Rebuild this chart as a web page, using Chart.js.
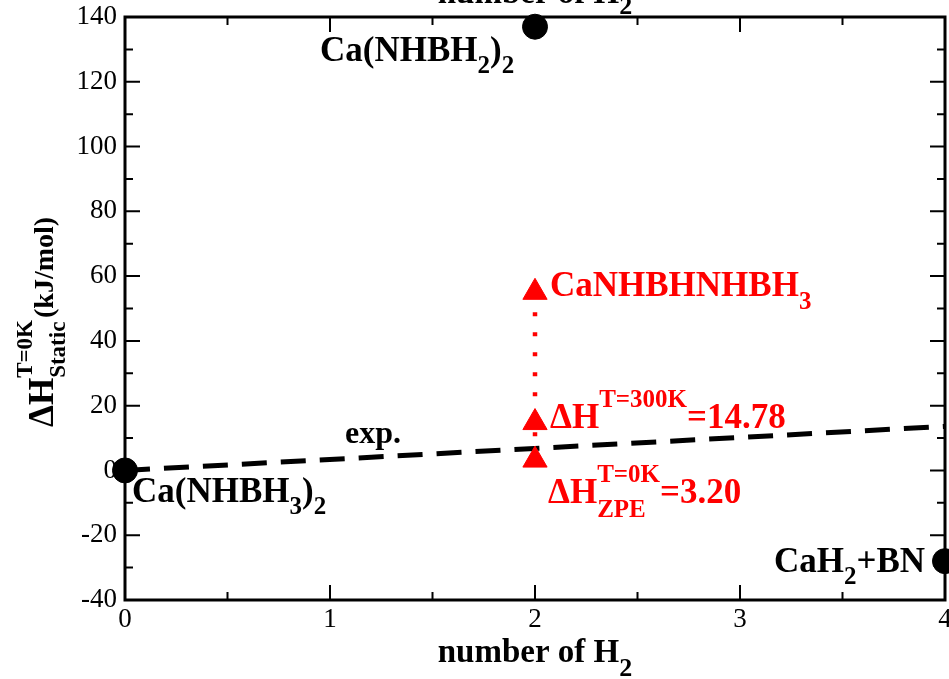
<!DOCTYPE html>
<html>
<head>
<meta charset="utf-8">
<script src="https://cdn.jsdelivr.net/npm/chart.js@4.4.0/dist/chart.umd.min.js"></script>
<style>
  html, body { margin: 0; padding: 0; background: #fff; }
  canvas { display: block; }
</style>
</head>
<body>
<canvas id="enthalpy" width="949" height="679"></canvas>
<script>
// values
const compoundX = [0, 2, 4];
const compoundY = [0, 137, -28];
const intermediateX = [2, 2, 2];
const intermediateY = [55, 14.78, 3.20];
const expX = [0, 4];
const expY = [0, 13.6];
const xTickLabels = ['0', '1', '2', '3', '4'];
const yTickLabels = ['-40', '-20', '0', '20', '40', '60', '80', '100', '120', '140'];

const SERIF = "'Liberation Serif', 'Times New Roman', serif";
const RED = '#ff0000';

// draws text with sub/superscripts; parts: {t}, {sub}, {sup}, {sup, sub}
function richWidth(ctx, parts, size, small) {
  let w = 0;
  for (const p of parts) {
    if (p.t !== undefined) {
      ctx.font = `bold ${size}px ${SERIF}`;
      w += ctx.measureText(p.t).width;
    } else {
      ctx.font = `bold ${small}px ${SERIF}`;
      w += Math.max(p.sup ? ctx.measureText(p.sup).width : 0,
                    p.sub ? ctx.measureText(p.sub).width : 0);
    }
  }
  return w;
}

function drawRich(ctx, x, y, parts, o) {
  const size = o.size || 35, small = o.small || 25;
  const supUp = o.supUp || 20, subDown = o.subDown || 13;
  let cx = x;
  if (o.align === 'right') cx = x - richWidth(ctx, parts, size, small);
  ctx.fillStyle = o.color || '#000';
  ctx.textBaseline = 'alphabetic';
  ctx.textAlign = 'left';
  for (const p of parts) {
    if (p.t !== undefined) {
      ctx.font = `bold ${size}px ${SERIF}`;
      ctx.fillText(p.t, cx, y);
      cx += ctx.measureText(p.t).width;
    } else {
      ctx.font = `bold ${small}px ${SERIF}`;
      let w = 0;
      if (p.sup) { ctx.fillText(p.sup, cx, y - supUp); w = ctx.measureText(p.sup).width; }
      if (p.sub) { ctx.fillText(p.sub, cx, y + subDown); w = Math.max(w, ctx.measureText(p.sub).width); }
      cx += w;
    }
  }
}

const annotations = {
  id: 'annotations',
  afterDatasetsDraw(chart) {
    const { ctx, chartArea: a, scales: { x, y } } = chart;
    ctx.save();

    // frame with inward ticks on all four sides
    ctx.strokeStyle = '#000';
    ctx.lineWidth = 2;
    const xt = x.ticks.map(t => t.value);
    const yt = y.ticks.map(t => t.value);
    const xMarks = [];
    xt.forEach((v, i) => { xMarks.push([v, 15]); if (i < xt.length - 1) xMarks.push([(v + xt[i + 1]) / 2, 8]); });
    const yMarks = [];
    yt.forEach((v, i) => { yMarks.push([v, 15]); if (i < yt.length - 1) yMarks.push([(v + yt[i + 1]) / 2, 8]); });
    ctx.beginPath();
    for (const [v, len] of xMarks) {
      const px = x.getPixelForValue(v);
      ctx.moveTo(px, a.bottom); ctx.lineTo(px, a.bottom - len);
      ctx.moveTo(px, a.top); ctx.lineTo(px, a.top + len);
    }
    for (const [v, len] of yMarks) {
      const py = y.getPixelForValue(v);
      ctx.moveTo(a.left, py); ctx.lineTo(a.left + len, py);
      ctx.moveTo(a.right, py); ctx.lineTo(a.right - len, py);
    }
    ctx.stroke();
    ctx.lineWidth = 3;
    ctx.strokeRect(a.left, a.top, a.right - a.left, a.bottom - a.top);

    // point labels
    const px = (v) => x.getPixelForValue(v);
    const py = (v) => y.getPixelForValue(v);
    drawRich(ctx, px(compoundX[1]) - 215, py(compoundY[1]) + 34,
      [{ t: 'Ca(NHBH' }, { sub: '2' }, { t: ')' }, { sub: '2' }], { subDown: 12 });
    drawRich(ctx, px(compoundX[0]) + 7, py(compoundY[0]) + 32,
      [{ t: 'Ca(NHBH' }, { sub: '3' }, { t: ')' }, { sub: '2' }], { subDown: 12 });
    drawRich(ctx, px(compoundX[2]) - 20, py(compoundY[2]) + 11,
      [{ t: 'CaH' }, { sub: '2' }, { t: '+BN' }], { subDown: 12, align: 'right' });
    drawRich(ctx, px(1) + 15, py(expY[0] + (expY[1] - expY[0]) / 4) - 16,
      [{ t: 'exp.' }], { size: 32 });

    drawRich(ctx, px(intermediateX[0]) + 15, py(intermediateY[0]) + 4,
      [{ t: 'CaNHBHNHBH' }, { sub: '3' }], { color: RED, subDown: 13 });
    drawRich(ctx, px(intermediateX[1]) + 15, py(intermediateY[1]) + 5,
      [{ t: 'ΔH' }, { sup: 'T=300K' }, { t: '=14.78' }], { color: RED, supUp: 21 });
    drawRich(ctx, px(intermediateX[2]) + 13, py(intermediateY[2]) + 43,
      [{ t: 'ΔH' }, { sup: 'T=0K', sub: 'ZPE' }, { t: '=3.20' }], { color: RED, supUp: 21, subDown: 14 });

    // axis titles (the top one is cut off by the canvas edge, as in the figure)
    const cx = (a.left + a.right) / 2;
    const titleParts = [{ t: 'number of H' }, { sub: '2' }];
    const tw = richWidth(ctx, titleParts, 33, 26);
    drawRich(ctx, cx - tw / 2, 662, titleParts, { size: 33, small: 26, subDown: 14 });
    drawRich(ctx, cx - tw / 2, 3, titleParts, { size: 33, small: 26, subDown: 11 });

    ctx.translate(53, 427);
    ctx.rotate(-Math.PI / 2);
    drawRich(ctx, 0, 0, [{ t: 'ΔH' }, { sup: 'T=0K', sub: 'Static' }], { size: 35, small: 23, supUp: 21, subDown: 12 });
    const w0 = richWidth(ctx, [{ t: 'ΔH' }, { sup: 'T=0K', sub: 'Static' }], 35, 23);
    drawRich(ctx, w0 + 2, 0, [{ t: '(kJ/mol)' }], { size: 28 });

    ctx.restore();
  }
};

new Chart(document.getElementById('enthalpy'), {
  type: 'scatter',
  data: {
    datasets: [
      {
        label: 'compounds',
        data: compoundX.map((v, i) => ({ x: v, y: compoundY[i] })),
        pointRadius: 12.5,
        pointHoverRadius: 12.5,
        pointBackgroundColor: '#000',
        pointBorderColor: '#000',
        showLine: false,
        clip: false
      },
      {
        label: 'intermediate',
        data: intermediateX.map((v, i) => ({ x: v, y: intermediateY[i] })),
        pointStyle: 'triangle',
        pointRadius: 14,
        pointHoverRadius: 14,
        pointBackgroundColor: RED,
        pointBorderColor: RED,
        pointBorderWidth: 1,
        showLine: true,
        borderColor: RED,
        borderWidth: 4.5,
        borderDash: [4, 16],
        clip: false
      },
      {
        label: 'exp.',
        data: expX.map((v, i) => ({ x: v, y: expY[i] })),
        pointRadius: 0,
        showLine: true,
        borderColor: '#000',
        borderWidth: 5,
        borderDash: [25, 14],
        clip: false
      }
    ]
  },
  options: {
    responsive: false,
    animation: false,
    events: [],
    layout: { autoPadding: false, padding: { left: 0, right: 4, top: 17, bottom: 0 } },
    plugins: {
      legend: { display: false },
      tooltip: { enabled: false }
    },
    scales: {
      x: {
        type: 'linear',
        min: 0,
        max: 4,
        afterFit: (scale) => { scale.height = 79; scale.paddingLeft = 0; scale.paddingRight = 0; },
        grid: { display: false, drawTicks: false },
        border: { display: false },
        ticks: {
          stepSize: 1,
          padding: 4,
          color: '#000',
          font: { family: SERIF, size: 27 },
          callback: (v) => xTickLabels[v] ?? ''
        }
      },
      y: {
        type: 'linear',
        min: -40,
        max: 140,
        afterFit: (scale) => { scale.width = 125; scale.paddingTop = 0; scale.paddingBottom = 0; },
        grid: { display: false, drawTicks: false },
        border: { display: false },
        ticks: {
          stepSize: 20,
          padding: 8,
          color: '#000',
          font: { family: SERIF, size: 27 },
          callback: (v) => yTickLabels[(v + 40) / 20] ?? ''
        }
      }
    }
  },
  plugins: [annotations]
});
</script>
</body>
</html>
